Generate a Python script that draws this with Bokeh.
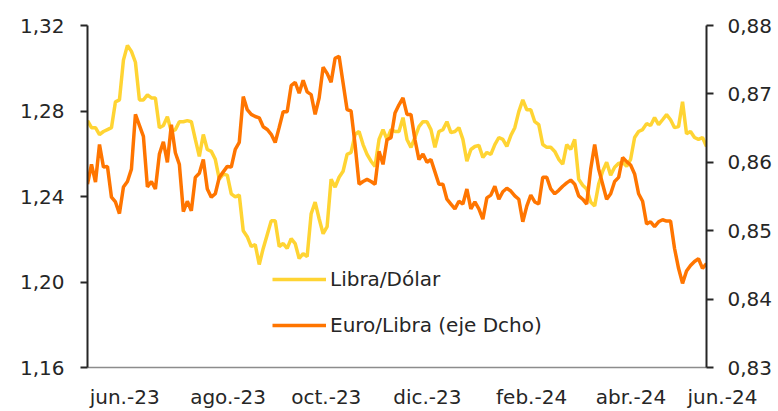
from bokeh.plotting import figure
from bokeh.models import Range1d, LinearAxis, FixedTicker, Legend, LegendItem, ColumnDataSource
from bokeh.embed import file_html
from bokeh.resources import INLINE

# Libra/Dólar (eje izquierdo), observaciones aproximadas
gbpusd = [1.2755, 1.2722, 1.2722, 1.2690, 1.2704, 1.2713, 1.2722, 1.2843, 1.2852, 1.3038,
          1.3107, 1.3079, 1.3028, 1.2852, 1.2852, 1.2875, 1.2861, 1.2861, 1.2722, 1.2732,
          1.2773, 1.2704, 1.2713, 1.2750, 1.2750, 1.2755, 1.2750, 1.2667, 1.2588, 1.2690,
          1.2620, 1.2611, 1.2574, 1.2481, 1.2504, 1.2500, 1.2412, 1.2398, 1.2407, 1.2240,
          1.2212, 1.2166, 1.2175, 1.2082, 1.2157, 1.2221, 1.2286, 1.2286, 1.2166, 1.2180,
          1.2157, 1.2203, 1.2180, 1.2110, 1.2133, 1.2119, 1.2319, 1.2374, 1.2296, 1.2226,
          1.2259, 1.2481, 1.2444, 1.2490, 1.2518, 1.2597, 1.2606, 1.2690, 1.2704, 1.2643,
          1.2597, 1.2565, 1.2541, 1.2667, 1.2713, 1.2667, 1.2713, 1.2704, 1.2704, 1.2769,
          1.2667, 1.2630, 1.2676, 1.2727, 1.2750, 1.2750, 1.2713, 1.2630, 1.2704, 1.2713,
          1.2750, 1.2699, 1.2704, 1.2722, 1.2667, 1.2565, 1.2620, 1.2634, 1.2639, 1.2583,
          1.2606, 1.2597, 1.2643, 1.2676, 1.2667, 1.2634, 1.2685, 1.2722, 1.2797, 1.2852,
          1.2806, 1.2806, 1.2750, 1.2736, 1.2643, 1.2630, 1.2630, 1.2611, 1.2574, 1.2551,
          1.2643, 1.2620, 1.2667, 1.2481, 1.2453, 1.2435, 1.2374, 1.2356, 1.2458, 1.2518,
          1.2560, 1.2500, 1.2537, 1.2555, 1.2560, 1.2541, 1.2574, 1.2676, 1.2704, 1.2713,
          1.2741, 1.2732, 1.2769, 1.2736, 1.2759, 1.2783, 1.2759, 1.2722, 1.2727, 1.2843,
          1.2694, 1.2704, 1.2676, 1.2667, 1.2676, 1.2634]

# Euro/Libra (eje derecho)
eurgbp = [0.8568, 0.8597, 0.8571, 0.8626, 0.8593, 0.8594, 0.8549, 0.8542, 0.8525, 0.8564,
          0.8572, 0.8590, 0.8670, 0.8654, 0.8638, 0.8564, 0.8572, 0.8561, 0.8612, 0.8630,
          0.8600, 0.8655, 0.8614, 0.8597, 0.8528, 0.8543, 0.8529, 0.8578, 0.8584, 0.8604,
          0.8561, 0.8549, 0.8554, 0.8578, 0.8586, 0.8594, 0.8593, 0.8619, 0.8629, 0.8696,
          0.8677, 0.8670, 0.8667, 0.8665, 0.8652, 0.8648, 0.8641, 0.8629, 0.8651, 0.8674,
          0.8674, 0.8712, 0.8717, 0.8701, 0.8720, 0.8703, 0.8699, 0.8670, 0.8694, 0.8739,
          0.8730, 0.8717, 0.8752, 0.8755, 0.8716, 0.8677, 0.8675, 0.8626, 0.8568, 0.8572,
          0.8575, 0.8572, 0.8568, 0.8616, 0.8597, 0.8633, 0.8636, 0.8672, 0.8684, 0.8694,
          0.8670, 0.8670, 0.8633, 0.8604, 0.8612, 0.8600, 0.8604, 0.8586, 0.8568, 0.8568,
          0.8546, 0.8539, 0.8532, 0.8543, 0.8539, 0.8561, 0.8532, 0.8542, 0.8532, 0.8517,
          0.8548, 0.8552, 0.8565, 0.8546, 0.8557, 0.8562, 0.8558, 0.8551, 0.8546, 0.8513,
          0.8536, 0.8552, 0.8542, 0.8539, 0.8578, 0.8578, 0.8561, 0.8554, 0.8559, 0.8565,
          0.8570, 0.8574, 0.8568, 0.8551, 0.8546, 0.8539, 0.8590, 0.8626, 0.8590, 0.8568,
          0.8546, 0.8554, 0.8572, 0.8578, 0.8607, 0.8601, 0.8596, 0.8583, 0.8554, 0.8543,
          0.8510, 0.8513, 0.8506, 0.8513, 0.8516, 0.8514, 0.8514, 0.8474, 0.8445, 0.8423,
          0.8441, 0.8449, 0.8455, 0.8459, 0.8445, 0.8452]

x_labels = ["jun.-23", "ago.-23", "oct.-23", "dic.-23", "feb.-24", "abr.-24", "jun.-24"]
left_ticks = [1.16, 1.20, 1.24, 1.28, 1.32]
left_labels = ["1,16", "1,20", "1,24", "1,28", "1,32"]
right_ticks = [0.83, 0.84, 0.85, 0.86, 0.87, 0.88]
right_labels = ["0,83", "0,84", "0,85", "0,86", "0,87", "0,88"]
series_names = ["Libra/Dólar", "Euro/Libra (eje Dcho)"]

n = len(gbpusd)
# layout positions (index units) for the month labels; the last one sits at the
# right end of the axis and is pushed right with non-breaking spaces
x_label_pos = [9.3, 35.2, 59.8, 85.1, 111.2, 136.1, n - 1]
x_label_txt = list(x_labels[:-1]) + ["\u00a0" * 5 + x_labels[-1]]

FONT = "DejaVu Sans"
TXT = "#262626"
YELLOW = "#FFD433"
ORANGE = "#FF7500"

src = ColumnDataSource(dict(x=list(range(n)), a=gbpusd, b=eurgbp[:n]))

p = figure(width=778, height=411, output_backend="svg", toolbar_location=None,
           x_range=Range1d(0, n - 1), y_range=Range1d(1.16, 1.32),
           min_border_left=87, min_border_right=72, min_border_top=25, min_border_bottom=41)
p.extra_y_ranges = {"right": Range1d(0.83, 0.88)}
p.outline_line_color = None
p.xgrid.visible = False
p.ygrid.visible = False

yr = LinearAxis(y_range_name="right")
p.add_layout(yr, "right")

# x axis
xa = p.xaxis[0]
xa.ticker = FixedTicker(ticks=x_label_pos)
xa.major_label_overrides = {pos: lab for pos, lab in zip(x_label_pos, x_label_txt)}
xa.major_tick_line_color = None
xa.minor_tick_line_color = None
xa.axis_line_color = "#8c8c8c"
xa.axis_line_width = 1.5
xa.major_label_standoff = 11
xa.major_label_text_font = FONT
xa.major_label_text_font_size = "20px"
xa.major_label_text_color = TXT

# y axes
ya = p.yaxis[0]
ya.ticker = FixedTicker(ticks=left_ticks)
ya.major_label_overrides = dict(zip(left_ticks, left_labels))
yr.ticker = FixedTicker(ticks=right_ticks)
yr.major_label_overrides = dict(zip(right_ticks, right_labels))
for ax, so in ((ya, 16), (yr, 14)):
    ax.minor_tick_line_color = None
    ax.major_tick_in = 0
    ax.major_tick_out = 7
    ax.major_tick_line_color = TXT
    ax.major_tick_line_width = 2
    ax.axis_line_color = TXT
    ax.axis_line_width = 2
    ax.major_label_standoff = so
    ax.major_label_text_font = FONT
    ax.major_label_text_font_size = "20px"
    ax.major_label_text_color = TXT

r1 = p.line("x", "a", source=src, line_color=YELLOW, line_width=3.5)
r2 = p.line("x", "b", source=src, line_color=ORANGE, line_width=3.5, y_range_name="right")

legend = Legend(items=[LegendItem(label=series_names[0], renderers=[r1]),
                       LegendItem(label=series_names[1], renderers=[r2])],
                location=(185, 30), orientation="vertical",
                glyph_width=54, glyph_height=24, label_height=24, spacing=22,
                label_standoff=4, padding=0, margin=0,
                border_line_alpha=0, background_fill_alpha=0,
                label_text_font=FONT, label_text_font_size="20px", label_text_color=TXT)
p.add_layout(legend, "center")

open("out.html", "w").write(file_html(p, INLINE))
